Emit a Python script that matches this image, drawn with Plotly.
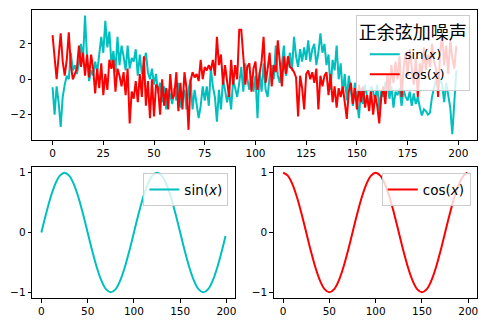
import plotly.graph_objects as go

W, H = 490, 329

# ---------------- data ----------------
x_noise = list(range(200))
sin_noisy = [
    -0.45, -2.0, -0.4, -1.3, -2.7, -1.0, -0.3, 0.2, 0.0, 1.5,
    0.5, 0.8, 0.3, 0.9, 2.0, 1.1, 3.6, 1.2, -0.1, 0.5,
    0.2, 1.0, 0.4, 1.6, 2.4, 1.5, 3.3, 1.8, 2.7, 0.9,
    1.6, 0.4, 2.4, 0.8, 1.9, 1.3, 0.5, 1.9, 0.6, 1.2,
    1.0, 1.7, 0.2, 1.4, 0.3, 0.9, 1.5, 0.4, 0.0, 0.6,
    -0.3, 0.3, -0.8, -0.2, -1.3, -0.4, -1.7, -0.6, -0.9, -1.4,
    -0.5, -1.2, -0.2, -1.6, -0.8, -0.6, -1.7, -0.6, 0.0, -1.7,
    -0.6, -1.4, -2.2, -1.5, -0.4, -1.2, -0.4, -1.5, 0.6, -0.4,
    -1.0, -2.4, -0.6, -1.7, 0.0, -0.6, -1.3, -0.7, -1.7, 0.0,
    -0.6, -1.0, -0.2, 0.7, -0.7, 0.9, 0.0, -0.6, 0.2, -0.7,
    0.2, -2.2, 0.4, -0.7, 0.9, -0.6, -1.0, 0.2, 0.8, 0.0,
    1.9, 0.2, -0.2, 0.9, 1.9, 0.2, 0.9, 1.5, 0.5, 2.4,
    1.3, 0.7, 1.7, 1.0, 1.8, 1.1, 2.2, 1.0, 1.7, 2.0,
    0.8, 1.5, 2.6, 1.5, 2.0, 0.8, 1.4, -0.6, 1.1, 0.5,
    1.9, 0.0, 0.9, -0.8, 0.3, -1.2, 0.2, -0.6, -1.5, -0.2,
    -1.2, -2.2, -0.5, -1.4, -0.3, -1.0, -1.6, -0.4, -0.7, -1.2,
    -0.3, -1.8, -0.6, -1.0, -0.2, -0.2, -1.1, -0.4, -1.6, -0.7,
    -0.9, -0.5, -1.5, -0.6, -1.0, -1.2, -0.7, -1.5, -0.8, -1.4,
    -1.0, -1.6, -2.05, -1.7, -1.8, -2.0, -1.9, -1.0, -0.4, 0.0,
    -0.5, 0.0, -0.3, -1.3, -0.2, -0.8, -1.6, -3.1, -1.0, 0.5,
]
cos_noisy = [
    2.5, 1.2, 0.0, 1.3, 2.6, 1.0, 0.2, 1.1, 2.65, 0.8,
    0.0, 0.3, 0.6, 1.9, 0.7, 1.5, 0.2, 1.4, 0.1, 1.4,
    0.6, -0.8, 0.6, -0.5, 0.9, -0.9, 0.3, -0.6, 1.1, 0.6,
    1.1, -0.7, 0.6, 0.2, -0.4, 0.4, -0.9, 0.6, -2.5, -0.7,
    -1.1, -0.1, -1.3, 0.3, -1.0, 1.3, -1.5, -0.1, -2.2, 0.0,
    -2.1, -0.3, -0.5, -2.0, 0.0, -1.5, -0.5, -1.7, 0.3, -1.1,
    -0.9, 0.4, -1.8, -0.2, -1.7, 0.4, -0.5, -2.86, -0.1, 0.4,
    0.1, 0.3, -0.1, 1.1, 0.0, 0.7, 0.5, 0.8, 0.5, 1.1,
    0.2, 2.4, 0.8, 1.4, -0.3, 0.8, 0.0, -1.0, 1.1, -0.3,
    0.8, 0.0, 2.8, 2.8, 1.3, -0.3, 0.7, 0.9, -0.7, 0.6,
    1.0, -0.6, 0.3, 1.0, 2.4, -0.2, 0.6, 1.5, -0.4, 0.8,
    0.4, 2.2, 1.0, -0.4, 1.3, 0.3, 1.3, 0.7, 0.6, 0.4,
    0.1, -2.1, 0.2, -0.5, -1.7, 0.3, 0.5, 0.0, 0.4, -0.2,
    0.6, -1.7, 0.2, -0.4, 0.2, 0.4, -0.9, 0.3, -1.3, -0.4,
    -1.6, -0.5, -1.0, -0.4, -1.3, -2.24, -0.7, -0.2, -1.4, -0.5,
    -1.7, -0.3, -1.3, -0.4, -1.6, -0.9, -1.8, -0.7, -2.0, -0.9,
    -1.5, -2.5, -1.0, -0.4, -1.4, 0.3, -0.6, 0.8, -0.2, 1.0,
    0.0, 1.3, -1.0, 0.6, 1.5, 0.2, 1.7, 0.6, -0.3, 1.2,
    -1.0, 0.9, 0.3, 1.8, 0.5, 1.4, 0.7, 2.0, 1.0, 0.6,
    -1.0, 1.5, 2.5, 0.8, 1.9, 0.3, 2.2, 1.2, 0.6, 1.9,
]

x_smooth = list(range(0, 200, 5)) + [199]
sin_vals = [
    0.00, 0.31, 0.59, 0.81, 0.95, 1.00, 0.95, 0.81, 0.59, 0.31,
    0.00, -0.31, -0.59, -0.81, -0.95, -1.00, -0.95, -0.81, -0.59, -0.31,
    0.00, 0.31, 0.59, 0.81, 0.95, 1.00, 0.95, 0.81, 0.59, 0.31,
    0.00, -0.31, -0.59, -0.81, -0.95, -1.00, -0.95, -0.81, -0.59, -0.31,
    -0.06,
]
cos_vals = [
    1.00, 0.95, 0.81, 0.59, 0.31, 0.00, -0.31, -0.59, -0.81, -0.95,
    -1.00, -0.95, -0.81, -0.59, -0.31, 0.00, 0.31, 0.59, 0.81, 0.95,
    1.00, 0.95, 0.81, 0.59, 0.31, 0.00, -0.31, -0.59, -0.81, -0.95,
    -1.00, -0.95, -0.81, -0.59, -0.31, 0.00, 0.31, 0.59, 0.81, 0.95,
    1.00,
]

top_xticks = [0, 25, 50, 75, 100, 125, 150, 175, 200]
top_yticks = [-2, 0, 2]
bot_xticks = [0, 50, 100, 150, 200]
bot_yticks = [-1, 0, 1]

sin_label = "sin(<i>x</i>)"
cos_label = "cos(<i>x</i>)"
legend_title = "正余弦加噪声"

CYAN = "#00BFBF"
RED = "#FF0000"
FONT = "DejaVu Sans, Liberation Sans, sans-serif"
CJK = "Noto Sans CJK SC, sans-serif"

# ---------------- figure ----------------
fig = go.Figure()

fig.add_trace(go.Scatter(x=x_noise, y=sin_noisy, mode="lines", name=sin_label,
                         line=dict(color=CYAN, width=2), xaxis="x", yaxis="y",
                         legend="legend"))
fig.add_trace(go.Scatter(x=x_noise, y=cos_noisy, mode="lines", name=cos_label,
                         line=dict(color=RED, width=2), xaxis="x", yaxis="y",
                         legend="legend"))
fig.add_trace(go.Scatter(x=x_smooth, y=sin_vals, mode="lines", name=sin_label,
                         line=dict(color=CYAN, width=2, shape="spline"),
                         xaxis="x2", yaxis="y2", legend="legend2"))
fig.add_trace(go.Scatter(x=x_smooth, y=cos_vals, mode="lines", name=cos_label,
                         line=dict(color=RED, width=2, shape="spline"),
                         xaxis="x3", yaxis="y3", legend="legend3"))


def px_x(p):
    return p / W


def px_y(p):
    return 1 - p / H


axis_common = dict(showline=True, mirror=True, linecolor="black", linewidth=1,
                   ticks="outside", ticklen=3.5, tickwidth=0.8, tickcolor="black",
                   showgrid=False, zeroline=False,
                   tickfont=dict(family=FONT, size=10.5, color="black"))

all_vals = sin_noisy + cos_noisy
lo, hi = min(all_vals), max(all_vals)
pad = (hi - lo) * 0.05
xpad = 199 * 0.05

LEG_FONT = dict(family=FONT, size=13, color="black")
LEG_BG = "rgba(255,255,255,0.8)"

fig.update_layout(
    width=W, height=H,
    margin=dict(l=0, r=0, t=0, b=0),
    paper_bgcolor="white", plot_bgcolor="white",
    xaxis=dict(domain=[px_x(32.5), px_x(478.5)], anchor="y",
               range=[-xpad, 199 + xpad], tickvals=top_xticks, **axis_common),
    yaxis=dict(domain=[px_y(140), px_y(9.7)], anchor="x",
               range=[lo - pad, hi + pad], tickvals=top_yticks, **axis_common),
    xaxis2=dict(domain=[px_x(32.3), px_x(235.7)], anchor="y2",
                range=[-xpad, 199 + xpad], tickvals=bot_xticks, **axis_common),
    yaxis2=dict(domain=[px_y(298.3), px_y(166.7)], anchor="x2",
                range=[-1.1, 1.1], tickvals=bot_yticks, **axis_common),
    xaxis3=dict(domain=[px_x(275), px_x(478.5)], anchor="y3",
                range=[-xpad, 199 + xpad], tickvals=bot_xticks, **axis_common),
    yaxis3=dict(domain=[px_y(298.3), px_y(166.7)], anchor="x3",
                range=[-1.1, 1.1], tickvals=bot_yticks, **axis_common),
    legend=dict(x=px_x(471.7), y=px_y(15), xanchor="right", yanchor="top",
                title=dict(text=legend_title, side="top center",
                           font=dict(family=CJK, size=18, color="black")),
                indentation=8, bgcolor=LEG_BG, bordercolor="#cccccc",
                borderwidth=1, font=LEG_FONT),
    legend2=dict(x=px_x(229.3), y=px_y(173.3), xanchor="right", yanchor="top",
                 bgcolor=LEG_BG, bordercolor="#cccccc", borderwidth=1,
                 font=dict(family=FONT, size=13.5, color="black")),
    legend3=dict(x=px_x(472.7), y=px_y(173.3), xanchor="right", yanchor="top",
                 bgcolor=LEG_BG, bordercolor="#cccccc", borderwidth=1,
                 font=dict(family=FONT, size=13.5, color="black")),
)

fig.write_html("out.html")
